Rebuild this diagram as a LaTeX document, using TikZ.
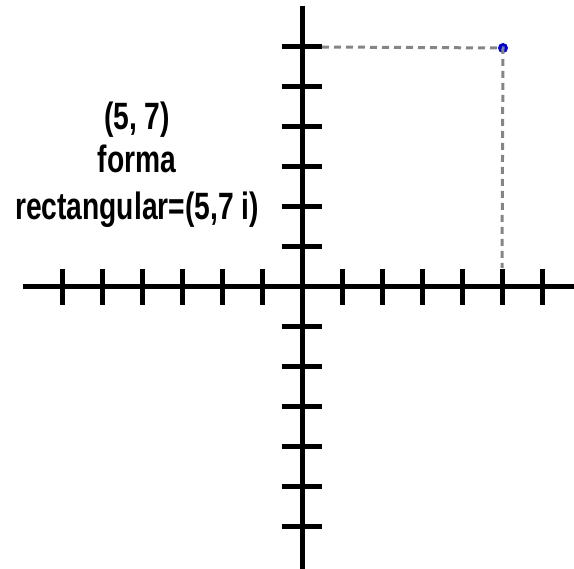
\documentclass[tikz,border=0pt]{standalone}
\usepackage{fontspec}
\setmainfont{Liberation Sans}
\begin{document}
\begin{tikzpicture}[x=1pt,y=-1pt,
  axisline/.style={line width=5pt,black},
  tickline/.style={line width=5pt,black},
  guide/.style={line width=3pt,color=black!48,dash pattern=on 7pt off 5pt},
  lbl/.style={anchor=base,inner sep=0pt,font=\bfseries\fontsize{34}{40}\selectfont}]
\useasboundingbox (0,0) rectangle (574,569);
\coordinate (xl) at (23,287);
\coordinate (xr) at (574,287);
\coordinate (yt) at (302,6);
\coordinate (yb) at (302,569);
\draw[axisline] (xl) -- (xr);
\draw[axisline] (yt) -- (yb);
\foreach \k in {-6,...,-1,1,2,...,6} {
  \draw[tickline] (302+40*\k,269) -- (302+40*\k,305);
  \draw[tickline] (282,287+40*\k) -- (322,287+40*\k);
}
\coordinate (gs) at (322,47);
\coordinate (gb) at (502,268);
\node[circle,fill=blue!85!black,inner sep=0pt,minimum size=10pt] (p) at (503,48) {};
\draw[guide] (gs) -- (p.center) -- (gb);
\node[lbl] (t1) at (137,130) {\scalebox{0.83}[1.12]{(5, 7)}};
\node[lbl] (t2) at (137,173) {\scalebox{0.83}[1.12]{forma}};
\node[lbl] (t3) at (137,220) {\scalebox{0.83}[1.12]{rectangular=(5,7 i)}};
\end{tikzpicture}
\end{document}
